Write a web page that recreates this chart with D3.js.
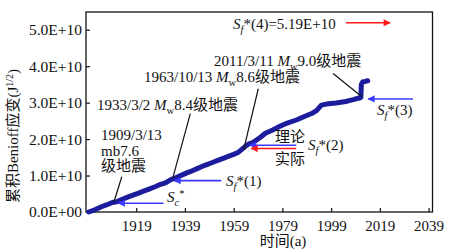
<!DOCTYPE html>
<html>
<head>
<meta charset="utf-8">
<script src="https://cdn.jsdelivr.net/npm/d3@7"></script>
<style>
  body { margin: 0; background: #fff; }
  text { font-family: "Liberation Serif", "Noto Sans CJK SC", serif; fill: #111; }
</style>
</head>
<body>
<div class="chart"></div>
<script>
const WIDTH = 451;
const HEIGHT = 252;
const MARGIN = {TOP: 12, BOTTOM: 40, RIGHT: 18.5, LEFT: 86};
const innerWidth = WIDTH - MARGIN.LEFT - MARGIN.RIGHT;
const innerHeight = HEIGHT - MARGIN.TOP - MARGIN.BOTTOM;

// cumulative strain curve (year, value)
var years = [1899.5, 1902, 1905, 1907, 1909.2, 1911, 1913, 1916, 1918, 1920,
    1922, 1924, 1927, 1929, 1931, 1933.2, 1935, 1937, 1940, 1942,
    1944, 1946, 1948, 1950, 1953, 1955, 1957, 1959, 1961, 1963.8,
    1965, 1967, 1970, 1972, 1975, 1978, 1981, 1985, 1988, 1991,
    1993, 1995, 1997, 2001, 2005, 2008, 2011.2, 2011.4, 2012, 2013, 2014];
var strain = [0.00, 0.06, 0.15, 0.20, 0.26, 0.28, 0.34, 0.42, 0.47, 0.52,
    0.57, 0.62, 0.70, 0.76, 0.80, 0.89, 0.93, 0.99, 1.08, 1.13,
    1.19, 1.25, 1.30, 1.35, 1.43, 1.48, 1.53, 1.58, 1.64, 1.80,
    1.86, 1.91, 2.05, 2.16, 2.25, 2.35, 2.44, 2.53, 2.62, 2.70,
    2.78, 2.93, 2.96, 2.99, 3.03, 3.08, 3.14, 3.50, 3.57, 3.58, 3.60].map(function (v) { return v * 1e10; });

var xTicks = [1919, 1939, 1959, 1979, 1999, 2019, 2039];
var yTicks = [0, 1e10, 2e10, 3e10, 4e10, 5e10];
var yTickLabels = ['0.0E+00', '1.0E+10', '2.0E+10', '3.0E+10', '4.0E+10', '5.0E+10'];

// threshold arrows: from year, to year, value
var arrowNames = ['Sc', 'Sf1', 'Sf2theory', 'Sf2real', 'Sf3', 'Sf4'];
var arrowFrom = [1930.2, 1953.9, 1984.7, 1984.7, 2032.6, 2005.1];
var arrowTo = [1911.7, 1934.6, 1965.6, 1966.2, 2014.2, 2023.2];
var arrowValue = [0.24e10, 0.86e10, 1.83e10, 1.74e10, 3.10e10, 5.19e10];
var arrowColor = ['blue', 'blue', 'blue', 'red', 'blue', 'red'];

// event pointer lines: [year0, value0, year1, value1]
var pointers = [
    [1909.9, 0.28e10, 1913.1, 0.97e10],
    [1934.0, 0.93e10, 1941.2, 2.70e10],
    [1963.1, 1.71e10, 1969.1, 3.38e10],
    [2011.5, 3.17e10, 1999.8, 3.80e10]
];

var data = years.map(function (y, i) { return {year: y, value: strain[i]}; });

var xScale = d3.scaleLinear().range([0, innerWidth]).domain([1898.4, 2040.6]);
var yScale = d3.scaleLinear().range([innerHeight, 0]).domain([0, 5.485e10]);

var svg = d3.select('.chart').append('svg')
    .attr('width', WIDTH)
    .attr('height', HEIGHT);

var defs = svg.append('defs');
[['blue', '#3a3aff'], ['red', '#ff1a1a']].forEach(function (c) {
    defs.append('marker')
        .attr('id', 'head-' + c[0])
        .attr('viewBox', '0 0 10 10')
        .attr('refX', 9).attr('refY', 5)
        .attr('markerWidth', 5.5).attr('markerHeight', 4.5)
        .attr('markerUnits', 'strokeWidth')
        .attr('orient', 'auto')
        .append('path')
        .attr('d', 'M0,0L10,5L0,10z')
        .attr('fill', c[1]);
});

var mainGroup = svg.append('g')
    .attr('transform', 'translate(' + MARGIN.LEFT + ',' + MARGIN.TOP + ')');

// frame
mainGroup.append('rect')
    .attr('width', innerWidth)
    .attr('height', innerHeight)
    .attr('fill', 'none')
    .attr('stroke', '#111')
    .attr('stroke-width', 1.3);

var xAxis = d3.axisBottom(xScale)
    .tickValues(xTicks)
    .tickFormat(d3.format('d'))
    .tickSizeInner(-4)
    .tickSizeOuter(0);

var yAxis = d3.axisLeft(yScale)
    .tickValues(yTicks)
    .tickFormat(function (d, i) { return yTickLabels[i]; })
    .tickSizeInner(-4)
    .tickSizeOuter(0);

var xAxisG = mainGroup.append('g')
    .attr('transform', 'translate(0,' + innerHeight + ')')
    .call(xAxis);
xAxisG.select('.domain').remove();
xAxisG.selectAll('line').attr('stroke', '#111').attr('stroke-width', 1.2);
xAxisG.selectAll('text')
    .attr('y', 8)
    .attr('font-size', 15)
    .attr('font-family', '"Liberation Serif", serif');

var yAxisG = mainGroup.append('g').call(yAxis);
yAxisG.select('.domain').remove();
yAxisG.selectAll('line').attr('stroke', '#111').attr('stroke-width', 1.2);
yAxisG.selectAll('text')
    .attr('x', -4)
    .attr('font-size', 15.5)
    .attr('font-family', '"Liberation Serif", serif');

// strain curve
var line = d3.line()
    .x(function (d) { return xScale(d.year); })
    .y(function (d) { return yScale(d.value); });

mainGroup.append('path')
    .datum(data)
    .attr('d', line)
    .attr('fill', 'none')
    .attr('stroke', '#1c1c9c')
    .attr('stroke-width', 5)
    .attr('stroke-linejoin', 'round')
    .attr('stroke-linecap', 'round');

// pointer lines
mainGroup.selectAll('.pointer')
    .data(pointers)
    .enter().append('line')
    .attr('x1', function (d) { return xScale(d[0]); })
    .attr('y1', function (d) { return yScale(d[1]); })
    .attr('x2', function (d) { return xScale(d[2]); })
    .attr('y2', function (d) { return yScale(d[3]); })
    .attr('stroke', '#111')
    .attr('stroke-width', 1.2);

// arrows
mainGroup.selectAll('.arrow')
    .data(arrowNames)
    .enter().append('line')
    .attr('x1', function (d, i) { return xScale(arrowFrom[i]); })
    .attr('x2', function (d, i) { return xScale(arrowTo[i]); })
    .attr('y1', function (d, i) { return yScale(arrowValue[i]); })
    .attr('y2', function (d, i) { return yScale(arrowValue[i]); })
    .attr('stroke', function (d, i) { return arrowColor[i] === 'red' ? '#ff1a1a' : '#3a3aff'; })
    .attr('stroke-width', 1.6)
    .attr('marker-end', function (d, i) { return 'url(#head-' + arrowColor[i] + ')'; });

// rich text helper: segments [text, style] where style may be 'i', 'sub', 'isub', 'sup'
function richText(x, y, segs, size) {
    size = size || 15;
    var t = svg.append('text')
        .attr('x', x).attr('y', y)
        .attr('font-size', size);
    var shift = 0;
    segs.forEach(function (s) {
        var sp = t.append('tspan').text(s[0]);
        var st = s[1] || '';
        var want = 0;
        if (st.indexOf('sub') >= 0) want = 4;
        if (st === 'sup') want = -5;
        sp.attr('dy', want - shift);
        shift = want;
        if (st.indexOf('i') === 0) sp.attr('font-style', 'italic');
        if (want !== 0) sp.attr('font-size', size * 0.7);
    });
    return t;
}

richText(233, 29, [['S', 'i'], ['f', 'isub'], ['*(4)=5.19E+10']]);
richText(214, 66, [['2011/3/11 '], ['M', 'i'], ['w', 'sub'], ['9.0级地震']]);
richText(144, 82, [['1963/10/13 '], ['M', 'i'], ['w', 'sub'], ['8.6级地震']]);
richText(97, 110, [['1933/3/2 '], ['M', 'i'], ['w', 'sub'], ['8.4级地震']]);
richText(101, 140, [['1909/3/13']]);
richText(101, 156, [['mb7.6']]);
richText(101, 171, [['级地震']]);
richText(167, 202, [['S', 'i'], ['c', 'isub'], ['*', 'sup']]);
richText(226, 186, [['S', 'i'], ['f', 'isub'], ['*(1)']]);
richText(308, 150, [['S', 'i'], ['f', 'isub'], ['*(2)']]);
richText(377, 115, [['S', 'i'], ['f', 'isub'], ['*(3)']]);
richText(275, 142, [['理论']]);
richText(275, 164, [['实际']]);

// axis titles
svg.append('text')
    .attr('x', 283).attr('y', 246)
    .attr('text-anchor', 'middle')
    .attr('font-size', 15)
    .text('时间(a)');

var yTitle = svg.append('text')
    .attr('transform', 'translate(18,136) rotate(-90)')
    .attr('text-anchor', 'middle')
    .attr('font-size', 15);
yTitle.append('tspan').text('累积Benioff应变(J');
yTitle.append('tspan').text('1/2').attr('font-size', 10).attr('dy', -5);
yTitle.append('tspan').text(')').attr('dy', 5);
</script>
</body>
</html>
